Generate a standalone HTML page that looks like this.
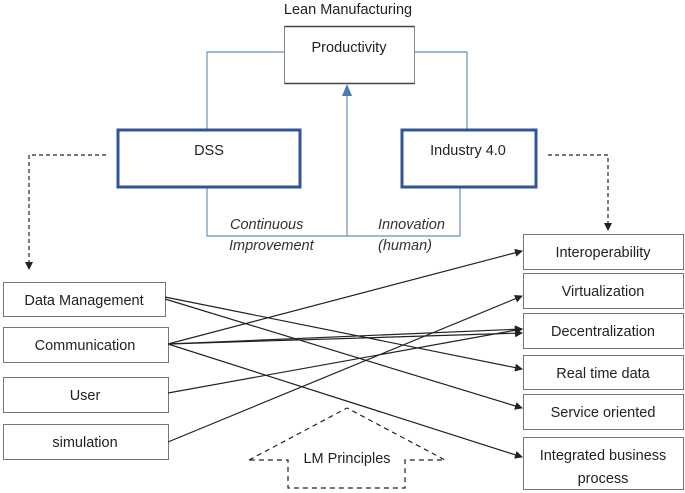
<!DOCTYPE html>
<html><head><style>
body{margin:0;background:#fff;}
svg{display:block;font-family:"Liberation Sans",sans-serif;}
</style></head><body>
<svg width="685" height="493" viewBox="0 0 685 493">
<defs>
<marker id="a" markerWidth="8" markerHeight="8" refX="7" refY="4" orient="auto" markerUnits="userSpaceOnUse"><path d="M0,0 L8,4 L0,8z" fill="#222"/></marker>
</defs>
<text x="348" y="14" font-size="14.5" text-anchor="middle" fill="#222">Lean Manufacturing</text>
<g stroke="#6a8fc0" stroke-width="1.2" fill="none">
<polyline points="207,129 207,52 284,52"/>
<polyline points="414,52 467,52 467,129"/>
<polyline points="207,188 207,236 460,236 460,188"/>
<line x1="347" y1="236" x2="347" y2="94"/>
</g>
<path d="M342,96 L347,84 L352,96z" fill="#4a7ab8"/>
<rect x="284.5" y="26.5" width="130" height="57" fill="#fff" stroke="#888" stroke-width="1"/>
<path d="M284.5,26.5 h130 M284.5,83.5 h130" stroke="#444" stroke-width="1.5"/>
<text x="349" y="52" font-size="14.5" text-anchor="middle" fill="#222">Productivity</text>
<rect x="118" y="130" width="182" height="57" fill="#fff" stroke="#2f5597" stroke-width="3"/>
<text x="209" y="155" font-size="14.5" text-anchor="middle" fill="#222">DSS</text>
<rect x="402" y="130" width="134" height="57" fill="#fff" stroke="#2f5597" stroke-width="3"/>
<text x="468" y="155" font-size="14.5" text-anchor="middle" fill="#222">Industry 4.0</text>
<g font-size="14.5" font-style="italic" fill="#333">
<text x="230" y="229">Continuous</text>
<text x="229" y="250">Improvement</text>
<text x="378" y="229">Innovation</text>
<text x="378" y="250">(human)</text>
</g>
<g stroke="#222" stroke-width="1.2" fill="none" stroke-dasharray="4,3">
<polyline points="106,155 29,155 29,262"/>
<polyline points="548,155 608,155 608,224"/>
</g>
<path d="M25,262 L29,270 L33,262z" fill="#222"/>
<path d="M604,223 L608,231 L612,223z" fill="#222"/>
<g fill="#fff" stroke="#777" stroke-width="1">
<rect x="3.5" y="282.5" width="162" height="34"/>
<rect x="3.5" y="327.5" width="165" height="35"/>
<rect x="3.5" y="377.5" width="165" height="35"/>
<rect x="3.5" y="424.5" width="165" height="35"/>
<rect x="523.5" y="234.5" width="160" height="35"/>
<rect x="523.5" y="273.5" width="160" height="35"/>
<rect x="523.5" y="313.5" width="160" height="35"/>
<rect x="523.5" y="355.5" width="160" height="34"/>
<rect x="523.5" y="394.5" width="160" height="35"/>
<rect x="523.5" y="437.5" width="160" height="52"/>
</g>
<g font-size="14.5" text-anchor="middle" fill="#222">
<text x="84" y="305">Data Management</text>
<text x="85" y="350">Communication</text>
<text x="85" y="400">User</text>
<text x="85" y="447">simulation</text>
<text x="603" y="257">Interoperability</text>
<text x="603" y="296">Virtualization</text>
<text x="603" y="336">Decentralization</text>
<text x="603" y="378">Real time data</text>
<text x="603" y="417">Service oriented</text>
<text x="603" y="460">Integrated business</text>
<text x="603" y="483">process</text>
</g>
<g stroke="#222" stroke-width="1.2" marker-end="url(#a)">
<line x1="165" y1="297" x2="522" y2="369"/>
<line x1="165" y1="299" x2="522" y2="408"/>
<line x1="168" y1="344" x2="522" y2="251"/>
<line x1="168" y1="344" x2="522" y2="329"/>
<line x1="168" y1="344" x2="522" y2="333"/>
<line x1="168" y1="344" x2="522" y2="457"/>
<line x1="168" y1="393" x2="522" y2="329"/>
<line x1="168" y1="442" x2="522" y2="296"/>
</g>
<path d="M249,460 L347,408 L445,460 L405,460 L405,488 L288,488 L288,460 Z" fill="none" stroke="#222" stroke-width="1.2" stroke-dasharray="5,4"/>
<text x="347" y="463" font-size="14.5" text-anchor="middle" fill="#222">LM Principles</text>
</svg>
</body></html>
